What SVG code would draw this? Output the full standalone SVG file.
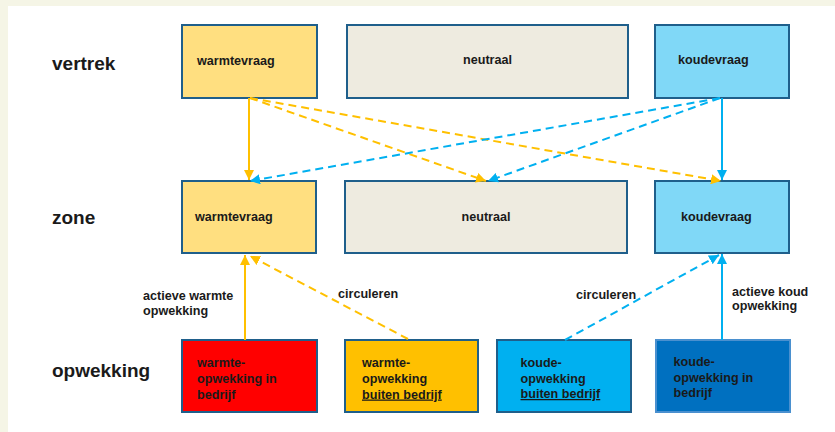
<svg xmlns="http://www.w3.org/2000/svg" width="835" height="432" viewBox="0 0 835 432">
<style>
.t{font-family:"Liberation Sans",Arial,sans-serif;font-weight:bold;fill:#1a1a1a}
.row{font-size:19px}
.lb{font-size:12.6px}
.box{stroke:#1F5F8B;stroke-width:2}
.y{stroke:#FFC000;stroke-width:2;fill:none}
.b{stroke:#00B0F0;stroke-width:2;fill:none}
.d{stroke-dasharray:8 5}
</style>
<defs>
<marker id="ay" viewBox="0 0 10 10" refX="10" refY="5" markerWidth="5" markerHeight="5" orient="auto" markerUnits="strokeWidth"><path d="M0,0L10,5L0,10z" fill="#FFC000"/></marker>
<marker id="ab" viewBox="0 0 10 10" refX="10" refY="5" markerWidth="5" markerHeight="5" orient="auto" markerUnits="strokeWidth"><path d="M0,0L10,5L0,10z" fill="#00B0F0"/></marker>
</defs>
<rect x="0" y="0" width="835" height="432" fill="#F5F5E6"/>
<rect x="8" y="6" width="827" height="426" fill="#FFFFFF"/>

<text class="t row" x="52" y="70">vertrek</text>
<text class="t row" x="52" y="224">zone</text>
<text class="t row" x="52" y="377">opwekking</text>

<g id="vertrek-warmtevraag"><rect class="box" x="182" y="25" width="135" height="73" fill="#FFDF80"/><text class="t lb" x="197" y="65">warmtevraag</text></g>
<g id="vertrek-neutraal"><rect class="box" x="347" y="25" width="281" height="73" fill="#EEEBE0"/><text class="t lb" x="487.5" y="64" text-anchor="middle">neutraal</text></g>
<g id="vertrek-koudevraag"><rect class="box" x="655" y="25" width="134" height="73" fill="#80D8F7"/><text class="t lb" x="678" y="64">koudevraag</text></g>

<g id="zone-warmtevraag"><rect class="box" x="182" y="181" width="134" height="72" fill="#FFDF80"/><text class="t lb" x="195" y="221">warmtevraag</text></g>
<g id="zone-neutraal"><rect class="box" x="345" y="181" width="282" height="72" fill="#EEEBE0"/><text class="t lb" x="486" y="221" text-anchor="middle">neutraal</text></g>
<g id="zone-koudevraag"><rect class="box" x="655" y="181" width="134" height="72" fill="#80D8F7"/><text class="t lb" x="681" y="221">koudevraag</text></g>

<g id="warmte-in-bedrijf"><rect class="box" x="182" y="340" width="135" height="72" fill="#FF0000"/><text class="t lb" x="197"><tspan x="197" y="367">warmte-</tspan><tspan x="197" y="383">opwekking in</tspan><tspan x="197" y="398.5">bedrijf</tspan></text></g>
<g id="warmte-buiten-bedrijf"><rect class="box" x="345" y="340" width="133" height="72" fill="#FFC000"/><text class="t lb"><tspan x="362" y="367">warmte-</tspan><tspan x="362" y="383">opwekking</tspan><tspan x="362" y="398.5" text-decoration="underline">buiten bedrijf</tspan></text></g>
<g id="koude-buiten-bedrijf"><rect class="box" x="497" y="340" width="134" height="72" fill="#00B0F0"/><text class="t lb"><tspan x="520.5" y="367">koude-</tspan><tspan x="520.5" y="383">opwekking</tspan><tspan x="520.5" y="398" text-decoration="underline">buiten bedrijf</tspan></text></g>
<g id="koude-in-bedrijf"><rect x="656" y="340" width="134" height="72" fill="#0070C0" stroke="#4A90CF" stroke-width="2"/><text class="t lb"><tspan x="673.5" y="366">koude-</tspan><tspan x="673.5" y="381.5">opwekking in</tspan><tspan x="673.5" y="396.5">bedrijf</tspan></text></g>

<g id="connectors">
<line class="y" x1="249" y1="98" x2="249" y2="180" marker-end="url(#ay)"/>
<line class="y d" x1="250" y1="98" x2="486" y2="181" marker-end="url(#ay)"/>
<line class="y d" x1="250" y1="98" x2="721" y2="181" marker-end="url(#ay)"/>
<line class="b" x1="722" y1="98" x2="722" y2="180" marker-end="url(#ab)"/>
<line class="b d" x1="720" y1="98" x2="250" y2="181" marker-end="url(#ab)"/>
<line class="b d" x1="720" y1="98" x2="488" y2="181" marker-end="url(#ab)"/>
<line class="y" x1="245" y1="340" x2="245" y2="255" marker-end="url(#ay)"/>
<line class="y d" x1="408" y1="339" x2="250" y2="256" marker-end="url(#ay)"/>
<line class="b d" x1="565" y1="340" x2="719" y2="255" marker-end="url(#ab)"/>
<line class="b" x1="722" y1="340" x2="722" y2="254" marker-end="url(#ab)"/>
</g>

<text class="t lb"><tspan x="143" y="300">actieve warmte</tspan><tspan x="143" y="314.5">opwekking</tspan></text>
<text class="t lb" x="338" y="298">circuleren</text>
<text class="t lb" x="576" y="299">circuleren</text>
<text class="t lb"><tspan x="732" y="295.5">actieve koud</tspan><tspan x="732" y="310">opwekking</tspan></text>
</svg>
